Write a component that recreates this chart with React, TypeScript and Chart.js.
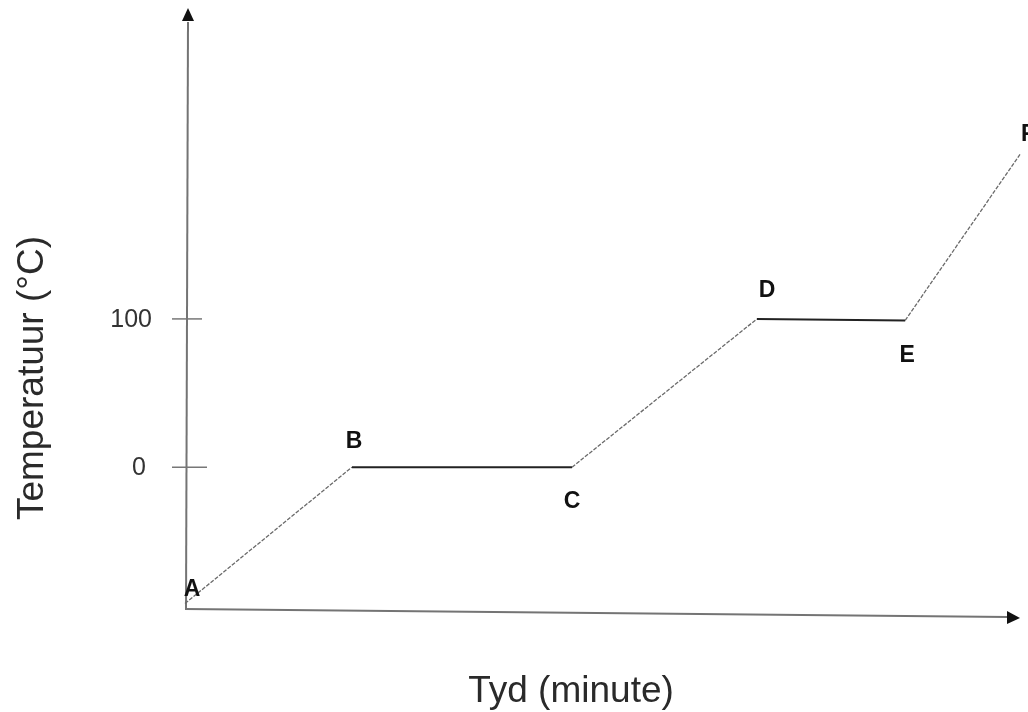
import React, { useEffect, useRef } from "react";
import { Chart, registerables } from "chart.js";

Chart.register(...registerables);

const pointLabels = ["A", "B", "C", "D", "E", "F"];
const timeValues = [0, 4.0, 9.27, 13.7, 17.25, 20];
const tempValues = [-92, 0, 0, 100, 99, 211];
const yTickValues = [0, 100];
const yTickLabels = ["0", "100"];
const xTitle = "Tyd (minute)";
const yTitle = "Temperatuur (\u00B0C)";

const FONT = "'Liberation Sans', Arial, sans-serif";

// label offsets (px) relative to each point
const labelOffsets: [number, number][] = [
  [7, -14],
  [2, -26],
  [0, 34],
  [10, -28],
  [2, 35],
  [8, -20],
];

const decorPlugin = {
  id: "decor",
  beforeDatasetsDraw(chart: any) {
    const { ctx, chartArea } = chart;
    const xs = chart.scales.x;
    const ys = chart.scales.y;
    const x0 = xs.getPixelForValue(0);
    const yb = chartArea.bottom;
    ctx.save();
    ctx.strokeStyle = "#747474";
    ctx.fillStyle = "#111";
    ctx.lineWidth = 2;
    // y axis
    ctx.beginPath();
    ctx.moveTo(x0 + 1, yb + 1);
    ctx.lineTo(x0 + 3, 22);
    ctx.stroke();
    ctx.beginPath();
    ctx.moveTo(x0 + 3, 8);
    ctx.lineTo(x0 - 3, 21);
    ctx.lineTo(x0 + 9, 21);
    ctx.closePath();
    ctx.fill();
    // x axis
    ctx.beginPath();
    ctx.moveTo(x0, yb + 1);
    ctx.lineTo(1008, yb + 9);
    ctx.stroke();
    ctx.beginPath();
    ctx.moveTo(1020, yb + 10);
    ctx.lineTo(1007, yb + 3);
    ctx.lineTo(1007, yb + 16);
    ctx.closePath();
    ctx.fill();
    // ticks
    ctx.lineWidth = 1.5;
    ctx.strokeStyle = "#777";
    ctx.font = `25px ${FONT}`;
    ctx.fillStyle = "#333";
    ctx.textAlign = "right";
    ctx.textBaseline = "middle";
    yTickValues.forEach((v, i) => {
      const py = ys.getPixelForValue(v);
      ctx.beginPath();
      ctx.moveTo(x0 - 13, py);
      ctx.lineTo(x0 + (v === 0 ? 22 : 17), py);
      ctx.stroke();
      ctx.fillText(yTickLabels[i], v === 0 ? 146 : 152, py + 1);
    });
    // titles
    ctx.font = `37px ${FONT}`;
    ctx.textAlign = "center";
    ctx.textBaseline = "alphabetic";
    ctx.fillStyle = "#2a2a2a";
    ctx.fillText(xTitle, 571, 702);
    ctx.save();
    ctx.translate(43, 378);
    ctx.rotate(-Math.PI / 2);
    ctx.fillText(yTitle, 0, 0);
    ctx.restore();
    ctx.restore();
  },
  afterDatasetsDraw(chart: any) {
    const { ctx } = chart;
    const xs = chart.scales.x;
    const ys = chart.scales.y;
    ctx.save();
    ctx.font = `bold 23px ${FONT}`;
    ctx.fillStyle = "#111";
    ctx.textAlign = "center";
    ctx.textBaseline = "middle";
    pointLabels.forEach((l, i) => {
      const px = xs.getPixelForValue(timeValues[i]);
      const py = ys.getPixelForValue(tempValues[i]);
      ctx.fillText(l, px + labelOffsets[i][0], py + labelOffsets[i][1]);
    });
    ctx.restore();
  },
};

export default function App() {
  const ref = useRef<HTMLCanvasElement | null>(null);
  useEffect(() => {
    if (!ref.current) return;
    const flat = (c: any) => Math.abs(c.p0.parsed.y - c.p1.parsed.y) < 5;
    const chart = new Chart(ref.current, {
      type: "line",
      data: {
        datasets: [
          {
            data: timeValues.map((t, i) => ({ x: t, y: tempValues[i] })),
            pointRadius: 0,
            borderWidth: 1.4,
            borderColor: "#666",
            clip: false as any,
            segment: {
              borderColor: (c: any) => (flat(c) ? "#222" : "#6a6a6a"),
              borderDash: (c: any) => (flat(c) ? [] : [4, 1.5]),
              borderWidth: (c: any) => (flat(c) ? 2 : 1.3),
            } as any,
          },
        ],
      },
      options: {
        animation: false,
        responsive: false,
        layout: { padding: { left: 185, right: 8, top: 15, bottom: 104 } },
        plugins: { legend: { display: false }, tooltip: { enabled: false } },
        scales: {
          x: { type: "linear", min: 0, max: 20, display: false },
          y: { type: "linear", min: -95, max: 305, display: false },
        },
      },
      plugins: [decorPlugin],
    });
    return () => chart.destroy();
  }, []);
  return (
    <div style={{ position: "fixed", left: 0, top: 0, width: 1028, height: 712, background: "#fff" }}>
      <canvas ref={ref} width={1028} height={712} style={{ display: "block" }} />
    </div>
  );
}
